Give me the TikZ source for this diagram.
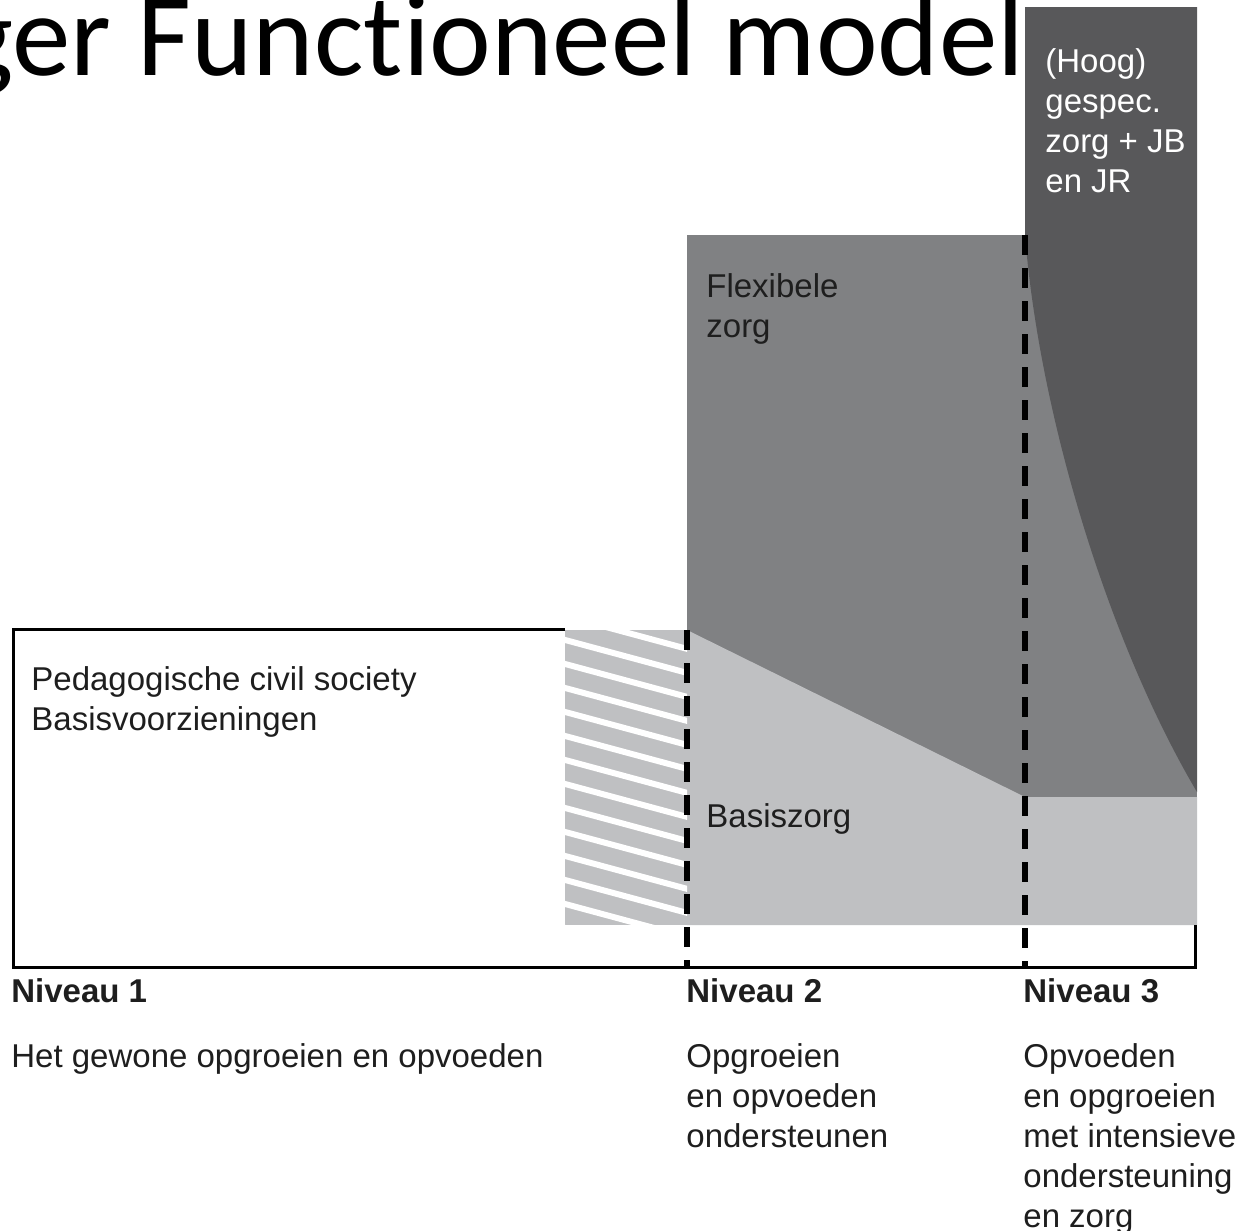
\documentclass[tikz,border=0pt]{standalone}
\usepackage{fontspec}
\setmainfont{Liberation Sans}
\newfontfamily\titlefont[Ligatures=NoCommon]{Carlito}
\definecolor{dk}{HTML}{58585A}
\definecolor{md}{HTML}{808183}
\definecolor{lt}{HTML}{BFC0C2}
\definecolor{tx}{HTML}{1E1E1E}
\begin{document}
\begin{tikzpicture}[x=0.5pt,y=-0.5pt,
  lbl/.style={anchor=base west, inner sep=0pt, font=\fontsize{16.5}{20}\selectfont, text=tx},
  lblb/.style={lbl, font=\fontsize{16.5}{20}\selectfont\bfseries},
  lblw/.style={lbl, text=white},
  ttl/.style={anchor=base east, inner sep=0pt, font=\titlefont\fontsize{58.5}{70}\selectfont, text=black},
  outline/.style={line width=1.5pt, line join=miter},
  divider/.style={line width=3.25pt, dash pattern=on 10pt off 6.5pt},
  hatchline/.style={white, line width=3pt}]
\useasboundingbox (0,0) rectangle (1248,1231);
\clip (0,0) rectangle (1248,1231);
\fill[white] (0,0) rectangle (1248,1231);
% areas
\fill[md] (687,235) rectangle (1197,797);
\fill[dk] (1025,7) -- (1197,7) -- (1197,792) .. controls (1110,645) and (1040,420) .. (1025,235) -- cycle;
\fill[lt] (687,630) -- (1025,797) -- (1197,797) -- (1197,925) -- (687,925) -- cycle;
% hatch
\begin{scope}
  \clip (565,630) rectangle (687,925);
  \fill[lt] (565,630) rectangle (687,925);
  \foreach \k in {-3,...,13}
    \draw[hatchline] (560,{638.6+24*\k}) -- (692,{674.2+24*\k});
\end{scope}
% outline
\draw[outline] (565,629) -- (13,629) -- (13,967) -- (1195,967) -- (1195,925);
% dividers
\coordinate (d2a) at (687,630);
\coordinate (d2b) at (687,968);
\coordinate (d3a) at (1025,235);
\coordinate (d3b) at (1025,968);
\draw[divider] (d2a) -- (d2b);
\draw[divider] (d3a) -- (d3b);
% title
\node[ttl] (title) at (1025,75) {ger Functioneel model};
% texts in boxes
\node[lblw] (h1) at (1045,72) {(Hoog)};
\node[lblw] (h2) at (1045,112) {gespec.};
\node[lblw] (h3) at (1045,152) {zorg + JB};
\node[lblw] (h4) at (1045,192) {en JR};
\node[lbl] (f1) at (706,297) {Flexibele};
\node[lbl] (f2) at (706,337) {zorg};
\node[lbl] (b1) at (706,827) {Basiszorg};
\node[lbl] (p1) at (31,690) {Pedagogische civil society};
\node[lbl] (p2) at (31,730) {Basisvoorzieningen};
% levels
\node[lblb] (n1) at (11,1002) {Niveau 1};
\node[lblb] (n2) at (686,1002) {Niveau 2};
\node[lblb] (n3) at (1023,1002) {Niveau 3};
\node[lbl] (t1) at (11,1067) {Het gewone opgroeien en opvoeden};
\node[lbl] (u1) at (686,1067) {Opgroeien};
\node[lbl] (u2) at (686,1107) {en opvoeden};
\node[lbl] (u3) at (686,1147) {ondersteunen};
\node[lbl] (v1) at (1023,1067) {Opvoeden};
\node[lbl] (v2) at (1023,1107) {en opgroeien};
\node[lbl] (v3) at (1023,1147) {met intensieve};
\node[lbl] (v4) at (1023,1187) {ondersteuning};
\node[lbl] (v5) at (1023,1227) {en zorg};
\end{tikzpicture}
\end{document}
